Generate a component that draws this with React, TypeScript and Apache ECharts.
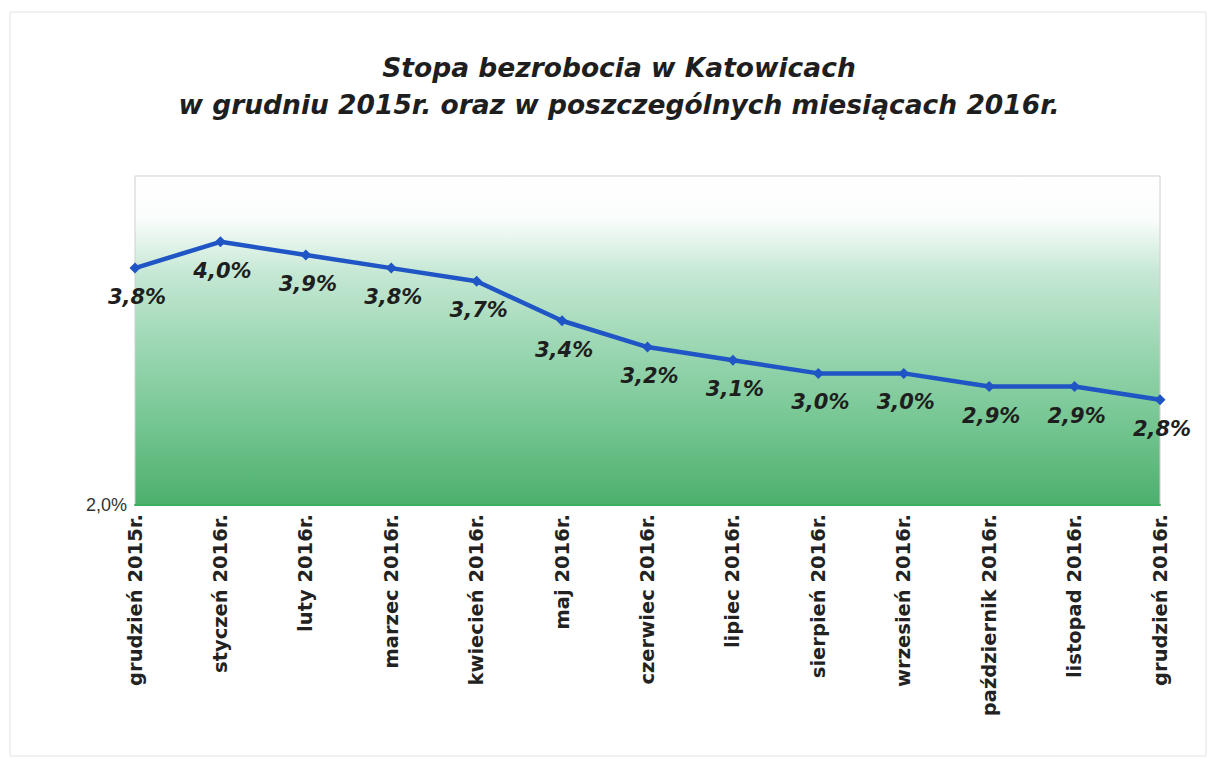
import React, { useEffect, useRef } from "react";
import * as echarts from "echarts";

const titleLines = [
  "Stopa bezrobocia w Katowicach",
  "w grudniu 2015r. oraz w poszczególnych miesiącach 2016r.",
];
const categories = [
  "grudzień 2015r.",
  "styczeń 2016r.",
  "luty 2016r.",
  "marzec 2016r.",
  "kwiecień 2016r.",
  "maj 2016r.",
  "czerwiec 2016r.",
  "lipiec 2016r.",
  "sierpień 2016r.",
  "wrzesień 2016r.",
  "październik 2016r.",
  "listopad 2016r.",
  "grudzień 2016r.",
];
const rates = [3.8, 4.0, 3.9, 3.8, 3.7, 3.4, 3.2, 3.1, 3.0, 3.0, 2.9, 2.9, 2.8];
const yMin = 2.0;
const yMax = 4.5;
const yInterval = 0.5;

const fmt = (v: number) => v.toFixed(1).replace(".", ",") + "%";
const WIDE = "DejaVu Sans, Verdana, sans-serif";

export default function App() {
  const ref = useRef<HTMLDivElement>(null);
  useEffect(() => {
    if (!ref.current) return;
    const chart = echarts.init(ref.current, null, { renderer: "svg" });
    chart.setOption({
      animation: false,
      backgroundColor: "#ffffff",
      title: {
        text: titleLines.join("\n"),
        left: 614,
        top: 44,
        textAlign: "center",
        textStyle: {
          fontFamily: WIDE,
          fontSize: 26.5,
          fontWeight: "bold",
          fontStyle: "italic",
          color: "#1e1e1e",
          lineHeight: 37,
        },
      },
      graphic: [
        {
          type: "rect",
          shape: { x: 10, y: 12, width: 1196, height: 744 },
          style: { fill: "none", stroke: "#e2e2e2", lineWidth: 1 },
          silent: true,
        },
      ],
      grid: {
        left: 135,
        right: 53,
        top: 176,
        bottom: 258,
        show: true,
        borderColor: "#cfcfcf",
        borderWidth: 1,
        backgroundColor: new echarts.graphic.LinearGradient(0, 0, 0, 1, [
          { offset: 0, color: "#ffffff" },
          { offset: 0.13, color: "#fafdfb" },
          { offset: 0.3, color: "#c4e7d3" },
          { offset: 0.5, color: "#9fd8b6" },
          { offset: 0.75, color: "#75c692" },
          { offset: 1, color: "#4caf6c" },
        ]),
      },
      xAxis: {
        type: "category",
        data: categories,
        boundaryGap: false,
        axisLine: { show: true, lineStyle: { color: "#3fae5e", width: 2 } },
        axisTick: { show: false },
        axisLabel: {
          rotate: 90,
          margin: 9,
          fontFamily: WIDE,
          fontSize: 19.5,
          fontWeight: "bold",
          color: "#222222",
          interval: 0,
        },
        splitLine: { show: false },
      },
      yAxis: {
        type: "value",
        min: yMin,
        max: yMax,
        interval: yInterval,
        axisLine: { show: false },
        axisTick: { show: false },
        splitLine: { show: false },
        axisLabel: {
          margin: 8,
          fontFamily: "Liberation Sans, Arial, sans-serif",
          fontSize: 18,
          color: "#333333",
          formatter: (v: number) => (Math.abs(v - yMin) < 1e-9 ? fmt(v) : ""),
        },
      },
      series: [
        {
          type: "line",
          data: rates,
          symbol: "diamond",
          symbolSize: 11,
          lineStyle: { color: "#1f55c4", width: 4.5 },
          itemStyle: { color: "#1f55c4" },
          label: {
            show: true,
            position: "bottom",
            distance: 13,
            offset: [2, 0],
            formatter: (p: any) => fmt(p.value),
            fontFamily: WIDE,
            fontSize: 21,
            fontWeight: "bold",
            fontStyle: "italic",
            color: "#1e1e1e",
          },
          z: 3,
        },
      ],
    });
    return () => chart.dispose();
  }, []);
  return (
    <div
      ref={ref}
      style={{ position: "fixed", left: 0, top: 0, width: 1213, height: 763 }}
    />
  );
}
